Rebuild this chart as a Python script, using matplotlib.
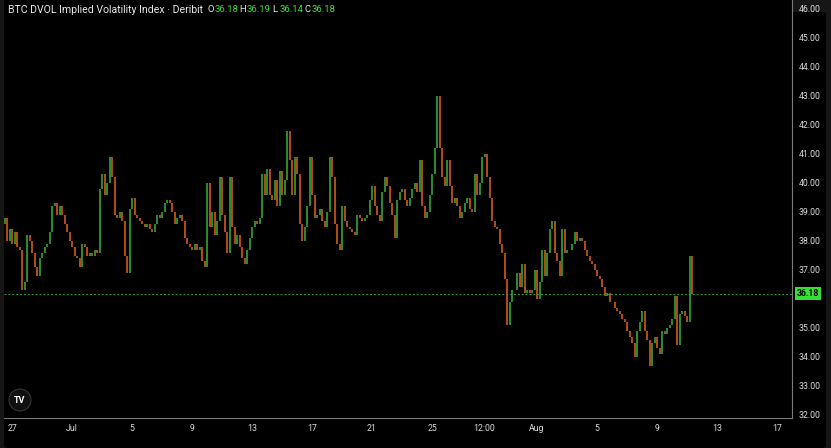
import numpy as np
import matplotlib.pyplot as plt
import matplotlib.dates as mdates
from matplotlib.patches import FancyBboxPatch, Circle
from matplotlib.transforms import blended_transform_factory
from datetime import datetime, timedelta

# 4h closes, BTC DVOL, from Jun 26 12:00 to Aug 11 08:00
closes = [
    38.8, 38.0, 38.4,                      # Jun 26
    37.9, 38.3, 37.8, 37.7, 36.3, 36.6,    # Jun 27
    38.2, 38.0, 37.6, 37.1, 36.8, 37.4,    # Jun 28
    37.6, 37.8, 37.9, 38.3, 39.2, 39.3,    # Jun 29
    38.9, 39.2, 38.9, 38.6, 38.3, 38.0,    # Jun 30
    37.8, 37.5, 37.4, 37.1, 37.9, 37.8,    # Jul 1
    37.5, 37.6, 37.5, 37.7, 37.6, 39.8,    # Jul 2
    40.3, 39.6, 40.0, 40.9, 40.2, 38.9,    # Jul 3
    38.8, 39.0, 38.7, 37.5, 36.9, 39.1,    # Jul 4
    39.5, 38.9, 38.8, 38.7, 38.6, 38.5,    # Jul 5
    38.6, 38.4, 38.3, 38.6, 38.9, 38.8,    # Jul 6
    39.0, 39.3, 39.4, 39.3, 39.0, 38.6,    # Jul 7
    38.8, 38.9, 38.7, 38.1, 37.9, 37.8,    # Jul 8
    37.7, 37.9, 37.7, 37.8, 37.3, 37.1,    # Jul 9
    40.0, 38.5, 39.0, 38.2, 38.7, 40.2,    # Jul 10
    38.9, 38.3, 37.6, 40.2, 38.5, 37.9,    # Jul 11
    38.2, 37.8, 37.4, 37.2, 37.7, 38.1,    # Jul 12
    38.5, 38.7, 38.6, 38.8, 40.3, 39.6,    # Jul 13
    40.5, 39.6, 39.4, 40.1, 39.2, 40.4,    # Jul 14
    39.6, 40.1, 41.8, 40.8, 39.6, 40.9,    # Jul 15
    40.3, 38.6, 38.0, 38.5, 39.2, 40.9,    # Jul 16
    39.6, 38.8, 38.9, 39.1, 38.7, 38.5,    # Jul 17
    39.0, 40.9, 40.2, 38.6, 37.9, 37.7,    # Jul 18
    39.2, 38.7, 38.5, 38.4, 38.3, 38.2,    # Jul 19
    38.9, 38.8, 38.7, 38.8, 38.9, 39.4,    # Jul 20
    39.9, 39.2, 38.9, 38.7, 39.7, 40.2,    # Jul 21
    39.9, 39.3, 38.9, 38.1, 39.4, 39.7,    # Jul 22
    39.8, 39.4, 39.2, 39.5, 39.8, 40.0,    # Jul 23
    39.7, 40.8, 39.2, 38.8, 39.0, 39.6,    # Jul 24
    40.3, 41.2, 43.0, 41.2, 40.2, 39.9,    # Jul 25
    40.8, 39.9, 39.3, 39.5, 39.2, 38.8,    # Jul 26
    39.0, 39.3, 39.5, 39.1, 39.0, 40.3,    # Jul 27
    39.6, 40.0, 40.9, 41.0, 40.2, 39.5,    # Jul 28
    38.7, 38.5, 38.4, 37.9, 37.6, 36.7,    # Jul 29
    35.1, 35.9, 36.3, 36.3, 36.9, 36.4,    # Jul 30
    37.2, 36.2, 36.3, 36.2, 36.3, 37.0,    # Jul 31
    36.0, 36.6, 37.7, 36.8, 37.6, 38.4,    # Aug 1
    38.7, 37.6, 37.3, 36.8, 38.4, 37.6,    # Aug 2
    37.7, 37.7, 37.9, 38.3, 38.0, 38.1,    # Aug 3
    38.0, 37.7, 37.5, 37.3, 37.2, 37.0,    # Aug 4
    36.8, 36.7, 36.4, 36.1, 36.2, 35.9,    # Aug 5
    35.9, 35.7, 35.6, 35.5, 35.3, 35.2,    # Aug 6
    34.9, 34.7, 34.5, 34.0, 34.9, 35.2,    # Aug 7
    35.6, 34.9, 34.6, 33.7, 34.5, 34.7,    # Aug 8
    34.3, 34.1, 34.9, 34.8, 35.0, 35.1,    # Aug 9
    35.3, 36.1, 34.4, 35.5, 35.6, 35.4,    # Aug 10
    35.2, 37.5, 36.18,                     # Aug 11
]
first_open = 38.6
start = datetime(2024, 6, 26, 12)
times = [start + timedelta(hours=4 * i) for i in range(len(closes))]

last_price = 36.18
ohlc_text = ["36.18", "36.19", "36.14", "36.18"]
price_ticks = [32, 33, 34, 35, 37, 38, 39, 40, 41, 42, 43, 44, 45, 46]
time_ticks = [datetime(2024, 6, 27), datetime(2024, 7, 1), datetime(2024, 7, 5),
              datetime(2024, 7, 9), datetime(2024, 7, 13), datetime(2024, 7, 17),
              datetime(2024, 7, 21), datetime(2024, 7, 25), datetime(2024, 7, 28, 12),
              datetime(2024, 8, 1), datetime(2024, 8, 5), datetime(2024, 8, 9),
              datetime(2024, 8, 13), datetime(2024, 8, 17)]
time_labels = ["27", "Jul", "5", "9", "13", "17", "21", "25", "12:00",
               "Aug", "5", "9", "13", "17"]

UP = "#36b33a"
DOWN = "#e2611c"
TXT = "#d8d8d8"
GRID = "#7a7a7a"

plt.rcParams['font.family'] = ['Roboto', 'DejaVu Sans']

W, H = 831, 448
fig = plt.figure(figsize=(W / 100, H / 100), dpi=100, facecolor="#161616")

# black panel behind everything
panel = FancyBboxPatch((4 / W, 0), 822 / W, 436 / H, boxstyle="round,pad=0,rounding_size=0.005",
                       transform=fig.transFigure, facecolor="black", edgecolor="none", zorder=-5)
fig.patches.append(panel)

ax = fig.add_axes([4 / W, 1 - 418 / H, 788 / W, 418 / H])
ax.set_facecolor("black")

x = mdates.date2num(times)
opens = [first_open] + closes[:-1]
lo = np.minimum(opens, closes)
hi = np.maximum(opens, closes)
cols = [UP if c >= o else DOWN for o, c in zip(opens, closes)]
ax.vlines(x, lo, hi, colors=cols, linewidth=1.1, zorder=3)

x0 = mdates.date2num(datetime(2024, 6, 27))
ax.set_xlim(x0 - 8 / 15, x0 + 780 / 15)
ax.set_ylim(46 - 409 / 29, 46 + 9 / 29)

ax.axhline(last_price, color="#2f9e3a", linestyle=(0, (2, 2)), linewidth=0.7, zorder=2)

for s in ["top", "left"]:
    ax.spines[s].set_visible(False)
ax.spines["bottom"].set_color(GRID)
ax.spines["right"].set_color(GRID)
ax.spines["bottom"].set_linewidth(0.8)
ax.spines["right"].set_linewidth(0.8)

ax.yaxis.tick_right()
ax.set_yticks(price_ticks)
ax.set_yticklabels([f"{v:.2f}" for v in price_ticks])
ax.set_xticks(mdates.date2num(time_ticks))
ax.set_xticklabels(time_labels)
ax.tick_params(axis="both", length=0, colors=TXT, labelsize=6.3)
ax.tick_params(axis="y", pad=5)
ax.tick_params(axis="x", pad=4)

# last price label
tr = blended_transform_factory(ax.transAxes, ax.transData)
ax.text(1.006, last_price, f"{last_price:.2f}", transform=tr, fontsize=6.3, color="black",
        fontweight="bold", va="center", ha="left", zorder=5, clip_on=False,
        bbox=dict(boxstyle="square,pad=0.25", facecolor="#33e033", edgecolor="none"))

# title and OHLC
fig.text(8 / W, 1 - 10 / H, "BTC DVOL Implied Volatility Index · Deribit", color="#e8e8e8",
         fontsize=7.6, va="center", ha="left")
xpos = 207
for lab, val in zip("OHLC", ohlc_text):
    fig.text(xpos / W, 1 - 10 / H, lab, color="#e8e8e8", fontsize=6.8, va="center", ha="left")
    fig.text((xpos + 7.5) / W, 1 - 10 / H, val, color="#3fe03f", fontsize=6.8, va="center", ha="left")
    xpos += 32.5

# TradingView logo
logo = Circle((20, H - 400), 11, transform=None, facecolor="#101010", edgecolor="#333333",
              linewidth=0.8, zorder=6)
fig.patches.append(logo)
fig.text(20 / W, 1 - 400 / H, "TV", color="white", fontsize=6.5, fontweight="bold",
         ha="center", va="center", zorder=7)

fig.savefig("out.png", dpi=100, facecolor=fig.get_facecolor())
